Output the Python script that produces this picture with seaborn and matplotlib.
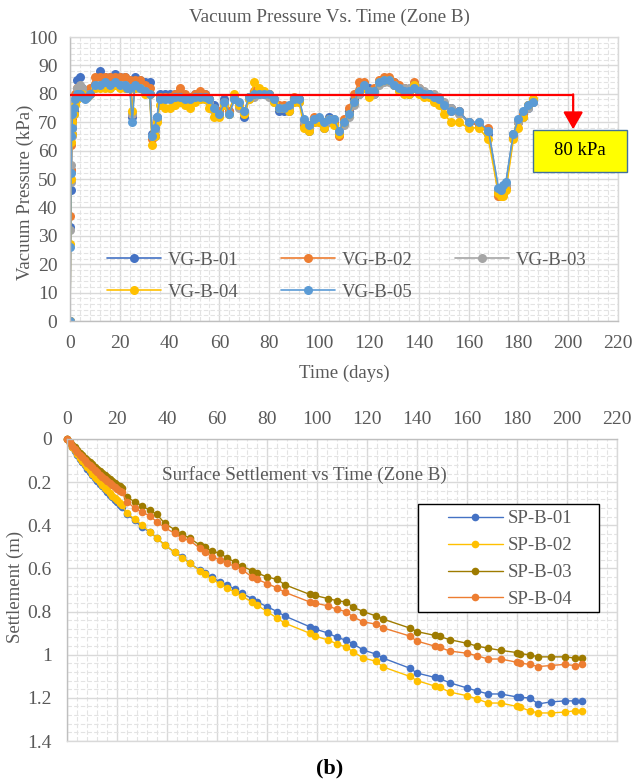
import pandas as pd
import seaborn as sns
import matplotlib.pyplot as plt
from matplotlib.lines import Line2D
from matplotlib.patches import Rectangle

# --- data: vacuum pressure (kPa) vs time (days), zone B ---
days_vg = [0, 0.2, 0.4, 0.6, 0.8, 1, 1.5, 2, 3, 4,
           5, 6, 7, 8, 10, 12, 14, 16, 18, 20,
           22, 23, 24, 25, 26, 28, 30, 32, 33, 34,
           35, 36, 38, 40, 42, 44, 46, 48, 50, 52,
           54, 56, 58, 60, 62, 64, 66, 68, 70, 72,
           74, 76, 78, 80, 82, 84, 86, 88, 90, 92,
           94, 96, 98, 100, 102, 104, 106, 108, 110, 112,
           114, 116, 118, 120, 122, 124, 126, 128, 130, 132,
           134, 136, 138, 140, 142, 144, 146, 148, 150, 153,
           156, 160, 164, 168, 172, 173, 174, 175, 178, 180,
           182, 184, 186]

vg_b_01 = [0, 33, 46, 53, 66, 70, 74, 78, 85, 86,
           82, 80, 80, 81, 83, 88, 86, 86, 87, 86,
           86, 85, 85, 72, 86, 85, 84, 84, 66, 65,
           72, 80, 80, 80, 80, 80, 79, 79, 80, 80,
           80, 78, 76, 74, 78, 74, 79, 76, 72, 79,
           80, 80, 80, 80, 78, 74, 74, 74, 78, 78,
           70, 67, 70, 71, 68, 72, 70, 66, 70, 74,
           78, 80, 83, 82, 80, 84, 85, 85, 84, 82,
           82, 80, 82, 81, 80, 80, 78, 78, 76, 75,
           74, 70, 69, 66, 46, 45, 46, 48, 66, 70,
           72, 75, 77]
vg_b_02 = [0, 37, 53, 62, 68, 71, 75, 80, 82, 82,
           81, 80, 80, 82, 86, 86, 86, 86, 86, 86,
           86, 85, 85, 73, 85, 85, 83, 82, 64, 68,
           71, 79, 79, 79, 80, 82, 80, 79, 80, 81,
           80, 78, 75, 74, 77, 74, 79, 76, 74, 79,
           81, 81, 80, 80, 78, 76, 76, 75, 79, 78,
           69, 68, 72, 70, 69, 71, 70, 65, 71, 75,
           80, 84, 84, 81, 82, 85, 86, 86, 84, 83,
           82, 81, 84, 82, 80, 80, 79, 78, 76, 74,
           74, 70, 69, 68, 44, 44, 45, 47, 65, 70,
           73, 76, 78]
vg_b_03 = [0, 32, 49, 55, 65, 69, 73, 77, 82, 83,
           82, 80, 79, 80, 82, 83, 83, 82, 83, 83,
           83, 82, 82, 73, 82, 82, 81, 80, 65, 67,
           71, 78, 78, 78, 78, 78, 78, 77, 78, 78,
           78, 77, 74, 73, 76, 73, 78, 75, 74, 78,
           79, 80, 80, 79, 77, 75, 75, 75, 77, 77,
           70, 68, 71, 71, 69, 70, 71, 67, 69, 72,
           76, 80, 82, 81, 80, 83, 84, 84, 83, 82,
           82, 82, 83, 82, 81, 80, 80, 79, 77, 75,
           73, 70, 70, 67, 46, 45, 45, 48, 66, 70,
           72, 75, 77]
vg_b_04 = [0, 27, 50, 63, 66, 70, 73, 76, 78, 80,
           80, 79, 79, 80, 82, 82, 82, 82, 83, 82,
           82, 82, 82, 74, 82, 82, 80, 80, 62, 65,
           70, 76, 75, 75, 76, 77, 76, 75, 77, 78,
           78, 75, 72, 72, 76, 73, 80, 76, 73, 78,
           84, 82, 81, 80, 77, 75, 75, 74, 77, 77,
           68, 67, 70, 70, 68, 71, 69, 66, 70, 73,
           77, 81, 82, 79, 81, 84, 85, 85, 83, 81,
           80, 80, 83, 80, 79, 79, 77, 76, 73, 70,
           70, 68, 68, 64, 45, 44, 44, 46, 64, 68,
           72, 76, 78]
vg_b_05 = [0, 26, 52, 65, 68, 73, 75, 78, 80, 80,
           79, 78, 79, 80, 83, 83, 84, 83, 84, 83,
           83, 82, 82, 70, 83, 82, 81, 80, 65, 68,
           72, 78, 78, 78, 79, 79, 78, 78, 79, 79,
           79, 78, 75, 73, 77, 73, 78, 77, 74, 79,
           80, 80, 80, 80, 78, 75, 75, 76, 78, 78,
           71, 69, 71, 72, 70, 71, 71, 67, 70, 73,
           77, 81, 83, 81, 81, 84, 85, 85, 83, 82,
           81, 81, 82, 81, 80, 80, 79, 78, 76, 74,
           74, 70, 70, 67, 47, 46, 48, 49, 66, 71,
           74, 76, 77]

vg_names = ['VG-B-01', 'VG-B-02', 'VG-B-03', 'VG-B-04', 'VG-B-05']
vg_colors = ['#4472C4', '#ED7D31', '#A5A5A5', '#FFC000', '#5B9BD5']
target_kpa = 79.5
target_label = '80 kPa'

# --- data: surface settlement (m) vs time (days), zone B ---
days_sp = [0, 1, 2, 3, 4, 5, 6, 7, 8, 9, 10, 11, 12, 13, 14, 15, 16, 17, 18, 19, 20, 21, 22,
           24, 27, 30, 33, 36, 39, 43, 46, 49, 53,
           55, 58, 61, 64, 67, 70, 74, 76, 80, 84,
           87, 97, 99, 104.5, 108, 111.5, 114.5, 118.5, 123.5, 126.5,
           137, 140, 147, 149, 153, 160, 164, 168.5, 173.5, 180,
           181, 185, 188.5, 193.5, 199, 203, 206]

sp_b_01 = [0, .02, .039, .057, .074, .091, .107, .122, .137, .152, .166, .18,
           .194, .207, .22, .233, .246, .258, .27, .282, .294, .305, .316,
           .35, .375, .41, .43, .46, .49, .525, .545, .575, .607,
           .62, .64, .662, .677, .695, .715, .74, .755, .777, .80,
           .82, .87, .88, .90, .92, .932, .95, .978, .997, 1.016,
           1.062, 1.085, 1.105, 1.11, 1.13, 1.154, 1.168, 1.182, 1.182, 1.196,
           1.198, 1.2, 1.228, 1.219, 1.214, 1.214, 1.214]
sp_b_02 = [0, .018, .036, .053, .07, .086, .102, .117, .132, .146, .16, .174,
           .187, .2, .213, .226, .238, .25, .262, .274, .285, .296, .307,
           .345, .37, .40, .43, .46, .49, .525, .55, .575, .61,
           .625, .65, .67, .69, .71, .73, .755, .77, .80, .83,
           .853, .90, .913, .932, .95, .964, .987, 1.015, 1.03, 1.057,
           1.10, 1.12, 1.145, 1.15, 1.173, 1.19, 1.205, 1.224, 1.224, 1.24,
           1.242, 1.26, 1.27, 1.27, 1.266, 1.26, 1.26]
sp_b_03 = [0, .013, .026, .039, .051, .063, .075, .086, .097, .108, .118, .128,
           .138, .148, .158, .167, .176, .185, .194, .203, .212, .22, .228,
           .27, .29, .31, .33, .35, .39, .42, .44, .46, .49,
           .50, .52, .53, .55, .57, .59, .61, .62, .64, .65,
           .675, .72, .725, .74, .75, .755, .78, .80, .82, .835,
           .876, .893, .91, .915, .93, .947, .96, .97, .98, .99,
           .995, 1.0, 1.01, 1.01, 1.01, 1.015, 1.015]
sp_b_04 = [0, .016, .031, .045, .059, .072, .085, .097, .109, .12, .131, .143,
           .154, .165, .176, .186, .196, .205, .214, .223, .232, .24, .248,
           .29, .32, .34, .355, .385, .41, .437, .46, .47, .505,
           .525, .545, .56, .575, .59, .605, .64, .65, .67, .69,
           .71, .755, .76, .774, .79, .80, .825, .848, .858, .876,
           .913, .937, .96, .965, .983, .993, 1.005, 1.02, 1.02, 1.035,
           1.038, 1.045, 1.055, 1.05, 1.045, 1.05, 1.045]

sp_names = ['SP-B-01', 'SP-B-02', 'SP-B-03', 'SP-B-04']
sp_colors = ['#4472C4', '#FFC000', '#9E7B00', '#ED7D31']
sp_ytick_labels = ['0', '0.2', '0.4', '0.6', '0.8', '1', '1.2', '1.4']

# --- long-form tables for seaborn ---
vg_series = [vg_b_01, vg_b_02, vg_b_03, vg_b_04, vg_b_05]
df_vg = pd.DataFrame({
    'day': days_vg * len(vg_names),
    'kPa': sum(vg_series, []),
    'gauge': [n for n in vg_names for _ in days_vg],
})
sp_series = [sp_b_01, sp_b_02, sp_b_03, sp_b_04]
df_sp = pd.DataFrame({
    'day': days_sp * len(sp_names),
    'settlement': sum(sp_series, []),
    'plate': [n for n in sp_names for _ in days_sp],
})

# --- style ---
sns.set_theme(style="white")
plt.rcParams['font.family'] = ['Liberation Serif', 'DejaVu Serif']
text_gray = '#595959'
fs = 13.5
tick_fs = 14

fig = plt.figure(figsize=(6.43, 7.8), dpi=100)
ax1 = fig.add_axes([70 / 643, 1 - 321 / 780, 548 / 643, 284 / 780])
ax2 = fig.add_axes([67 / 643, 1 - 741 / 780, 550 / 643, 302 / 780])


def style_grid(ax):
    ax.set_axisbelow(True)
    ax.grid(which='major', color='#D9D9D9', lw=1.0)
    ax.grid(which='minor', color='#E3E3E3', lw=0.8, ls=(0, (4, 2)))
    ax.tick_params(which='both', length=0, labelsize=tick_fs, labelcolor=text_gray)
    for s in ax.spines.values():
        s.set_color('#D9D9D9')
        s.set_linewidth(1)


# --- top: vacuum pressure ---
sns.lineplot(data=df_vg, x='day', y='kPa', hue='gauge', palette=vg_colors,
             marker='o', markersize=6.5, markeredgewidth=0, linewidth=1.2,
             estimator=None, sort=False, legend=False, ax=ax1)
ax1.set_xlim(0, 220)
ax1.set_ylim(0, 100)
ax1.set_xticks(range(0, 221, 20))
ax1.set_xticks(range(0, 221, 4), minor=True)
ax1.set_yticks(range(0, 101, 10))
ax1.set_yticks(range(0, 101, 2), minor=True)
style_grid(ax1)
ax1.spines['left'].set_color('#BFBFBF')
ax1.spines['bottom'].set_color('#BFBFBF')
ax1.tick_params(axis='x', pad=10)
ax1.tick_params(axis='y', pad=9)

ax1.set_xlabel('Time (days)', fontsize=fs, color=text_gray)
ax1.set_ylabel('Vacuum Pressure (kPa)', fontsize=fs, color=text_gray)
ax1.xaxis.set_label_coords(0.5, -0.155)
ax1.yaxis.set_label_coords(-0.066, 0.454)
ax1.text(0.474, 1.07, 'Vacuum Pressure Vs. Time (Zone B)', transform=ax1.transAxes,
         ha='center', va='center', fontsize=13.8, color=text_gray)

# 80 kPa target line with arrow and callout box
ax1.plot([0, 202], [target_kpa, target_kpa], color='red', lw=1.6, zorder=4)
ax1.annotate('', xy=(202, 67.5), xytext=(202, target_kpa + 0.3),
             arrowprops=dict(arrowstyle='-|>,head_length=0.7,head_width=0.4',
                             color='red', lw=1.6, mutation_scale=15, shrinkA=0, shrinkB=0),
             zorder=4)
ax1.add_patch(Rectangle((185.8, 52.5), 37.8, 14.8, fc='#FFFF00', ec='#41719C',
                        lw=1, clip_on=False, zorder=5))
ax1.text(204.7, 59.9, target_label, ha='center', va='center', fontsize=fs,
         color='black', zorder=6)

vg_handles = [Line2D([], [], color=c, marker='o', markersize=6.5, markeredgewidth=0, lw=1.2)
              for c in vg_colors]
order = [0, 3, 1, 4, 2]
ax1.legend([vg_handles[i] for i in order], [vg_names[i] for i in order], ncol=3,
           loc='upper left', bbox_to_anchor=(0.0675, 0.245), frameon=False,
           borderpad=0, borderaxespad=0, handlelength=2.9, handletextpad=0.35,
           columnspacing=2.25, labelspacing=0.8, fontsize=fs, labelcolor=text_gray)

# --- bottom: surface settlement ---
sns.lineplot(data=df_sp, x='day', y='settlement', hue='plate', palette=sp_colors,
             marker='o', markersize=5.5, markeredgewidth=0, linewidth=1.0,
             estimator=None, sort=False, legend=False, ax=ax2, clip_on=False)
ax2.set_xlim(0, 220)
ax2.set_ylim(1.4, 0)
ax2.set_xticks(range(0, 221, 20))
ax2.set_xticks(range(0, 221, 4), minor=True)
ax2.set_yticks([i * 0.2 for i in range(8)], labels=sp_ytick_labels)
ax2.set_yticks([i * 0.04 for i in range(36)], minor=True)
ax2.xaxis.tick_top()
style_grid(ax2)
ax2.spines['left'].set_color('#BFBFBF')
ax2.spines['top'].set_color('#BFBFBF')
ax2.tick_params(axis='x', pad=8)
ax2.tick_params(axis='y', pad=11)
ax2.set_xlabel('')
ax2.set_ylabel('Settlement (m)', fontsize=fs, color=text_gray)
ax2.yaxis.set_label_coords(-0.078, 0.51)
ax2.text(0.173, 0.881, 'Surface Settlement vs Time (Zone B)', transform=ax2.transAxes,
         ha='left', va='center', fontsize=13.8, color=text_gray)

ax2.add_patch(Rectangle((0.638, 0.427), 0.329, 0.358, transform=ax2.transAxes,
                        fc='white', ec='black', lw=1, zorder=4.5))
sp_handles = [Line2D([], [], color=c, marker='o', markersize=5.5, markeredgewidth=0, lw=1.0)
              for c in sp_colors]
ax2.legend(sp_handles, sp_names, loc='upper left', bbox_to_anchor=(0.693, 0.764),
           frameon=False, borderpad=0, borderaxespad=0, handlelength=2.9,
           handletextpad=0.3, labelspacing=0.52, fontsize=fs, labelcolor=text_gray)

fig.text(0.513, 1 - 768 / 780, '(b)', ha='center', va='center', fontsize=16,
         fontweight='bold', color='black')

fig.savefig('out.png', dpi=100)
